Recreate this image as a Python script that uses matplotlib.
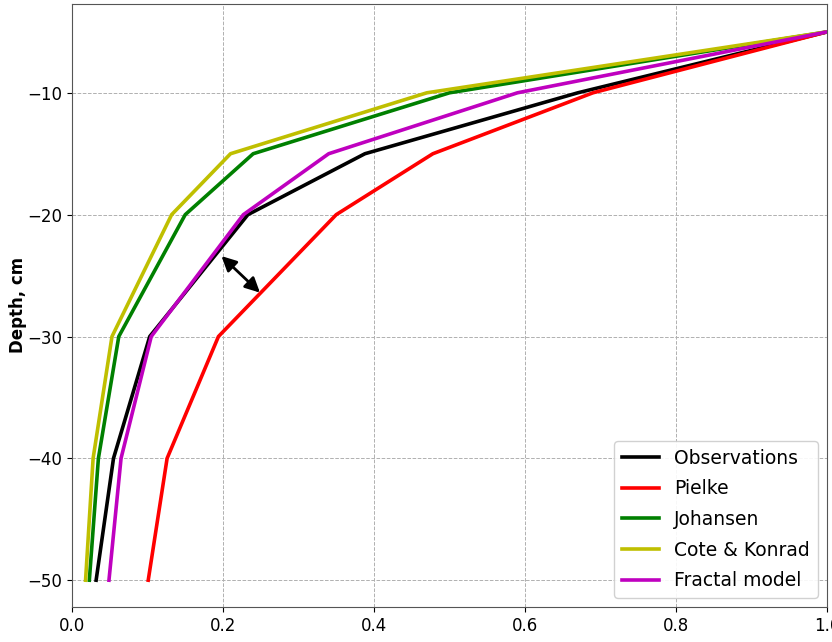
import matplotlib
matplotlib.use("Agg")
import matplotlib.pyplot as plt

# depth levels (cm) and conductivity-like ratio for each model
depth = [-5, -10, -15, -20, -30, -40, -50]

observations = [1.0, 0.67, 0.388, 0.233, 0.103, 0.055, 0.032]
pielke = [1.0, 0.69, 0.478, 0.350, 0.194, 0.126, 0.101]
johansen = [1.0, 0.50, 0.240, 0.150, 0.062, 0.035, 0.023]
cote_konrad = [1.0, 0.47, 0.210, 0.132, 0.053, 0.028, 0.018]
fractal = [1.0, 0.59, 0.340, 0.227, 0.105, 0.065, 0.049]

# double arrow between observations and Pielke
arrow_start = (0.198, -23.4)
arrow_end = (0.249, -26.4)

fig = plt.figure(figsize=(8.32, 6.42), dpi=100)
ax = fig.add_axes([0.0865, 0.0545, 0.9075, 0.9395])

lw = 2.6
ax.plot(observations, depth, color="k", lw=lw, label="Observations")
ax.plot(pielke, depth, color="r", lw=lw, label="Pielke")
ax.plot(johansen, depth, color="g", lw=lw, label="Johansen")
ax.plot(cote_konrad, depth, color="y", lw=lw, label="Cote & Konrad")
ax.plot(fractal, depth, color="m", lw=lw, label="Fractal model")

ax.annotate("", xy=arrow_start, xytext=arrow_end,
            arrowprops=dict(arrowstyle="<|-|>", color="k", lw=2,
                            mutation_scale=22, shrinkA=0, shrinkB=0))

ax.set_xlim(0, 1.0)
ax.set_ylim(-52.2, -2.7)
ax.set_xticks([0.0, 0.2, 0.4, 0.6, 0.8, 1.0])
ax.set_yticks([-10, -20, -30, -40, -50])
ax.tick_params(labelsize=12)
ax.set_ylabel("Depth, cm", fontsize=12, fontweight="bold", labelpad=0)
ax.grid(True, ls="--", color="#b0b0b0", lw=0.7)
for s in ax.spines.values():
    s.set_color("#555555")

ax.legend(loc="lower right", fontsize=13.5, handlelength=2.0,
          labelspacing=0.62, framealpha=0.9, edgecolor="#cccccc")

fig.savefig("out.png", dpi=100)
